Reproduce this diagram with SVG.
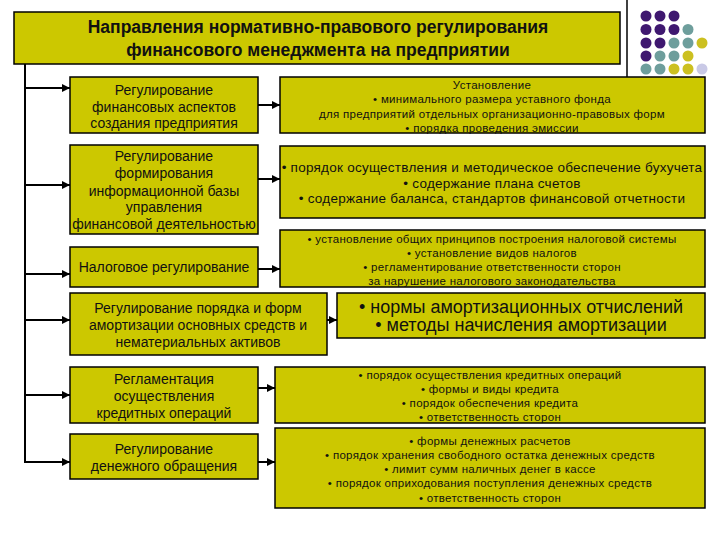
<svg xmlns="http://www.w3.org/2000/svg" width="720" height="540" viewBox="0 0 720 540">
<style>
.box{fill:#ccc800;stroke:#000;stroke-width:1.5}
.t{font-family:"Liberation Sans",Arial,sans-serif;fill:#111;text-anchor:middle}
.l13{font-size:14px}
.s11{font-size:11.5px;letter-spacing:0.3px}
.r13{font-size:13.5px;letter-spacing:0.25px}
.big{font-size:18px}
.title{font-size:17.5px;font-weight:bold}
.c{stroke:#000;stroke-width:2;fill:none}
</style>
<defs>
<marker id="ah" viewBox="0 0 8 8" refX="8" refY="4" markerWidth="4" markerHeight="4" orient="auto" markerUnits="strokeWidth">
<path d="M0,0 L8,4 L0,8 z" fill="#000"/>
</marker>
</defs>
<rect width="720" height="540" fill="#fff"/>

<g id="decor">
<line x1="627" y1="0" x2="627" y2="77" stroke="#000" stroke-width="1.5"/>
<g fill="#3f1870">
<circle cx="646" cy="16" r="5.5"/><circle cx="660" cy="16" r="5.5"/><circle cx="674" cy="16" r="5.5"/>
<circle cx="646" cy="29.5" r="5.5"/><circle cx="660" cy="29.5" r="5.5"/><circle cx="674" cy="29.5" r="5.5"/>
<circle cx="646" cy="43" r="5.5"/><circle cx="660" cy="43" r="5.5"/>
<circle cx="646" cy="56" r="5.5"/>
</g>
<g fill="#6e9e9c">
<circle cx="688" cy="29.5" r="5.5"/>
<circle cx="674" cy="43" r="5.5"/><circle cx="688" cy="43" r="5.5"/>
<circle cx="660" cy="56" r="5.5"/><circle cx="674" cy="56" r="5.5"/>
<circle cx="646" cy="69" r="5.5"/><circle cx="660" cy="69" r="5.5"/>
</g>
<g fill="#ccc020">
<circle cx="702" cy="43" r="5.5"/>
<circle cx="688" cy="56" r="5.5"/>
<circle cx="674" cy="69" r="5.5"/><circle cx="688" cy="69" r="5.5"/>
</g>
<circle cx="702" cy="69" r="5.5" fill="#c9c9e6"/>
</g>

<g id="title">
<rect class="box" x="14" y="12" width="606" height="52"/>
<text class="t title" x="318" y="33">Направления нормативно-правового регулирования</text>
<text class="t title" x="318" y="56">финансового менеджмента на предприятии</text>
</g>

<g id="connectors">
<line class="c" x1="25" y1="64" x2="25" y2="463"/>
<line class="c" x1="25" y1="88" x2="70" y2="88" marker-end="url(#ah)"/>
<line class="c" x1="25" y1="185" x2="70" y2="185" marker-end="url(#ah)"/>
<line class="c" x1="25" y1="274" x2="70" y2="274" marker-end="url(#ah)"/>
<line class="c" x1="25" y1="320" x2="70" y2="320" marker-end="url(#ah)"/>
<line class="c" x1="25" y1="395" x2="70" y2="395" marker-end="url(#ah)"/>
<line class="c" x1="25" y1="462" x2="70" y2="462" marker-end="url(#ah)"/>
<line class="c" x1="258" y1="105" x2="280" y2="105" marker-end="url(#ah)"/>
<line class="c" x1="258" y1="179" x2="280" y2="179" marker-end="url(#ah)"/>
<line class="c" x1="258" y1="269" x2="280" y2="269" marker-end="url(#ah)"/>
<line class="c" x1="327" y1="320" x2="337" y2="320" marker-end="url(#ah)"/>
<line class="c" x1="258" y1="388" x2="275" y2="388" marker-end="url(#ah)"/>
<line class="c" x1="258" y1="462" x2="275" y2="462" marker-end="url(#ah)"/>
</g>

<g id="L1">
<rect class="box" x="70" y="77" width="188" height="56"/>
<text class="t l13" x="164" y="95">Регулирование</text>
<text class="t l13" x="164" y="112">финансовых аспектов</text>
<text class="t l13" x="164" y="128">создания предприятия</text>
</g>
<g id="L2">
<rect class="box" x="70" y="145" width="188" height="89"/>
<text class="t l13" x="164" y="161">Регулирование</text>
<text class="t l13" x="164" y="178">формирования</text>
<text class="t l13" x="164" y="196">информационной базы</text>
<text class="t l13" x="164" y="212">управления</text>
<text class="t l13" x="164" y="229">финансовой деятельностью</text>
</g>
<g id="L3">
<rect class="box" x="70" y="247" width="188" height="40"/>
<text class="t l13" x="164" y="272">Налоговое регулирование</text>
</g>
<g id="L4">
<rect class="box" x="70" y="293" width="257" height="62"/>
<text class="t l13" x="198" y="313">Регулирование порядка и форм</text>
<text class="t l13" x="198" y="330">амортизации основных средств и</text>
<text class="t l13" x="198" y="347">нематериальных активов</text>
</g>
<g id="L5">
<rect class="box" x="70" y="367" width="188" height="56"/>
<text class="t l13" x="164" y="384">Регламентация</text>
<text class="t l13" x="164" y="401">осуществления</text>
<text class="t l13" x="164" y="418">кредитных операций</text>
</g>
<g id="L6">
<rect class="box" x="70" y="434" width="188" height="45"/>
<text class="t l13" x="164" y="454">Регулирование</text>
<text class="t l13" x="164" y="471">денежного обращения</text>
</g>

<g id="R1">
<rect class="box" x="280" y="77" width="425" height="56"/>
<text class="t s11" x="492" y="89">Установление</text>
<text class="t s11" x="492" y="103">• минимального размера уставного фонда</text>
<text class="t s11" x="492" y="118">для предприятий отдельных организационно-правовых форм</text>
<text class="t s11" x="492" y="132">•  порядка проведения эмиссии</text>
</g>
<g id="R2">
<rect class="box" x="280" y="146" width="425" height="72"/>
<text class="t r13" x="492" y="172">• порядок осуществления и методическое обеспечение бухучета</text>
<text class="t r13" x="492" y="188">• содержание плана счетов</text>
<text class="t r13" x="492" y="203">• содержание баланса, стандартов финансовой отчетности</text>
</g>
<g id="R3">
<rect class="box" x="280" y="230" width="425" height="57"/>
<text class="t s11" x="492" y="243">• установление общих принципов построения налоговой системы</text>
<text class="t s11" x="492" y="257">• установление видов налогов</text>
<text class="t s11" x="492" y="271">• регламентирование ответственности сторон</text>
<text class="t s11" x="492" y="285">за нарушение налогового законодательства</text>
</g>
<g id="R4">
<rect class="box" x="337" y="293" width="368" height="45"/>
<text class="t big" x="521" y="313">• нормы амортизационных отчислений</text>
<text class="t big" x="521" y="331">• методы начисления амортизации</text>
</g>
<g id="R5">
<rect class="box" x="275" y="367" width="430" height="56"/>
<text class="t s11" x="490" y="379">• порядок осуществления кредитных операций</text>
<text class="t s11" x="490" y="393">• формы и виды кредита</text>
<text class="t s11" x="490" y="407">• порядок обеспечения кредита</text>
<text class="t s11" x="490" y="421">• ответственность сторон</text>
</g>
<g id="R6">
<rect class="box" x="275" y="428" width="430" height="80"/>
<text class="t s11" x="490" y="445">• формы денежных расчетов</text>
<text class="t s11" x="490" y="459">• порядок хранения свободного остатка денежных средств</text>
<text class="t s11" x="490" y="473">• лимит сумм наличных денег в кассе</text>
<text class="t s11" x="490" y="487">• порядок оприходования поступления денежных средств</text>
<text class="t s11" x="490" y="502">• ответственность сторон</text>
</g>
</svg>
